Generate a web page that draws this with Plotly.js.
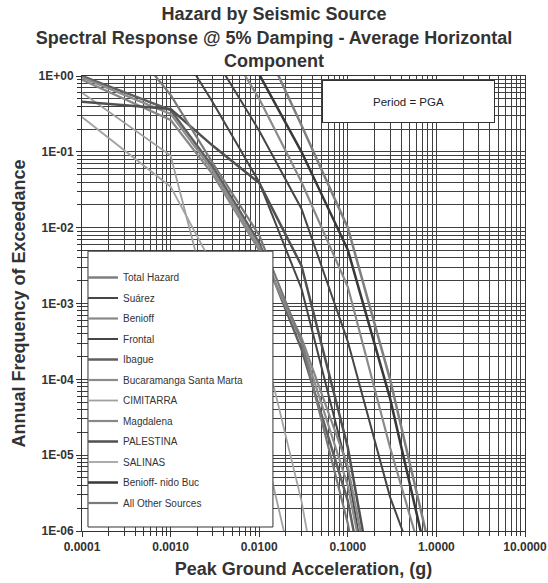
<!DOCTYPE html>
<html>
<head>
<meta charset="utf-8">
<script src="https://cdn.plot.ly/plotly-3.0.1.min.js"></script>
<style>html,body{margin:0;padding:0;background:#fff;}#chart{width:548px;height:583px;}</style>
</head>
<body>
<div id="chart"></div>
<script>
// Peak ground acceleration (g)
const pga = [0.0001, 0.001, 0.003, 0.01, 0.03, 0.1, 0.3, 1, 3];

// Annual frequency of exceedance per source
const totalHazard   = [316, 40, 12.6, 3.55, 0.224, 0.01, 1e-4, 2.5e-7, 3.2e-10];
const suarez        = [316, 15.8, 1.9, 0.19, 0.0178, 3.16e-4, 2.8e-6, 6.3e-8, 3.2e-10];
const benioff       = [398, 31.6, 5.0, 0.5, 0.04, 0.00166, 1.26e-5, 1e-7, 1.6e-10];
const frontal       = [100, 3.55, 0.447, 0.0398, 0.00158, 6.3e-6, 3.2e-9, 1e-12, 1e-15];
const ibague        = [1.0, 0.355, 0.063, 0.0063, 2.5e-4, 2.5e-6, 3.2e-9, 1e-12, 1e-15];
const bucaramanga   = [0.955, 0.316, 0.0562, 0.00562, 3.16e-4, 3.98e-6, 6.3e-9, 1e-12, 1e-15];
const cimitarra     = [0.603, 0.0891, 6.3e-4, 2.5e-5, 1e-7, 1e-11, 1e-15, 1e-15, 1e-15];
const magdalena     = [0.891, 0.263, 0.0501, 0.00501, 3.55e-4, 7.1e-6, 1e-8, 1e-12, 1e-15];
const palestina     = [0.457, 0.367, 0.12, 0.039, 0.00316, 1.26e-5, 1e-8, 1e-12, 1e-15];
const salinas       = [0.288, 0.0347, 0.00316, 5.0e-4, 2.5e-6, 1e-9, 1e-15, 1e-15, 1e-15];
const benioffNido   = [251, 25, 7.1, 1.05, 0.1, 0.0051, 5.6e-5, 1.26e-7, 1e-10];
const allOther      = [15.8, 0.562, 0.0708, 0.00794, 3.16e-4, 1.26e-6, 1.6e-9, 1e-12, 1e-15];

const seriesNames = ['Total Hazard','Suárez','Benioff','Frontal','Ibague','Bucaramanga Santa Marta',
  'CIMITARRA','Magdalena','PALESTINA','SALINAS','Benioff- nido Buc','All Other Sources'];
const seriesValues = [totalHazard, suarez, benioff, frontal, ibague, bucaramanga,
  cimitarra, magdalena, palestina, salinas, benioffNido, allOther];
const seriesColors = ['#7f7f7f','#464646','#8a8a8a','#454545','#606060','#8c8c8c',
  '#a0a0a0','#888888','#505050','#a3a3a3','#383838','#7a7a7a'];
const seriesWidths = [2.5,2,2.2,2,2.5,2.2,1.8,2.2,2.5,1.8,2.5,2.2];

const xTickVals = [0.0001, 0.001, 0.01, 0.1, 1, 10];
const xTickText = ['0.0001','0.0010','0.0100','0.1000','1.0000','10.0000'];
const yTickVals = [1, 0.1, 0.01, 0.001, 0.0001, 0.00001, 0.000001];
const yTickText = ['1E+00','1E-01','1E-02','1E-03','1E-04','1E-05','1E-06'];

const traces = seriesNames.map((n, i) => ({
  type: 'scatter', mode: 'lines', name: n, x: pga, y: seriesValues[i],
  legendgroup: 'g' + i,
  line: {color: seriesColors[i], width: seriesWidths[i]}
}));

const FONT = 'Liberation Sans, Arial, sans-serif';
const gridC = '#404040';
const axisCommon = {
  type: 'log', showline: true, mirror: true, linecolor: '#333', linewidth: 1,
  showgrid: true, gridcolor: gridC, gridwidth: 1, zeroline: false,
  ticks: 'outside', ticklen: 5, tickcolor: '#333', tickmode: 'array',
  tickfont: {family: FONT, size: 12, color: '#333', weight: 'bold'},
  minor: {ticks: 'outside', ticklen: 4, tickcolor: '#333', showgrid: true, gridcolor: gridC, gridwidth: 1, dtick: 'D1'}
};

const layout = {
  width: 548, height: 583,
  margin: {l: 82, r: 23, t: 76, b: 52},
  paper_bgcolor: '#fff', plot_bgcolor: '#fff',
  font: {family: FONT, color: '#333'},
  title: {
    text: '<b>Hazard by Seismic Source<br>Spectral Response @ 5% Damping - Average Horizontal<br>Component</b>',
    x: 0.5, xanchor: 'center', y: 0.965, yanchor: 'top', yref: 'container',
    font: {family: FONT, size: 18, color: '#333'}
  },
  xaxis: Object.assign({}, axisCommon, {
    range: [-4, 1], tickvals: xTickVals, ticktext: xTickText,
    title: {text: '<b>Peak Ground Acceleration, (g)</b>', standoff: 8, font: {family: FONT, size: 18, color: '#333'}}
  }),
  yaxis: Object.assign({}, axisCommon, {
    range: [-6, 0], tickvals: yTickVals, ticktext: yTickText,
    title: {text: '<b>Annual Frequency of Exceedance</b>', standoff: 8, font: {family: FONT, size: 18, color: '#333'}}
  }),
  showlegend: true,
  legend: {
    x: 0.0023, y: 0.589, xanchor: 'left', yanchor: 'top',
    bgcolor: 'rgba(0,0,0,0)', borderwidth: 0, tracegroupgap: 1.5,
    font: {family: FONT, size: 10, color: '#333'}
  },
  shapes: [{
    type: 'rect', xref: 'paper', yref: 'paper', layer: 'above',
    x0: 0.0135, x1: 0.431, y0: 0.0088, y1: 0.615,
    fillcolor: '#fff', line: {color: '#333', width: 1}
  }],
  annotations: [{
    xref: 'paper', yref: 'paper', x: 0.736, y: 0.943, xanchor: 'center', yanchor: 'middle',
    text: 'Period = PGA', showarrow: false, width: 169, height: 39,
    bgcolor: '#fff', bordercolor: '#333', borderwidth: 1,
    font: {family: FONT, size: 11.5, color: '#222'}
  }]
};

Plotly.newPlot('chart', traces, layout, {displayModeBar: false, staticPlot: true});
</script>
</body>
</html>
